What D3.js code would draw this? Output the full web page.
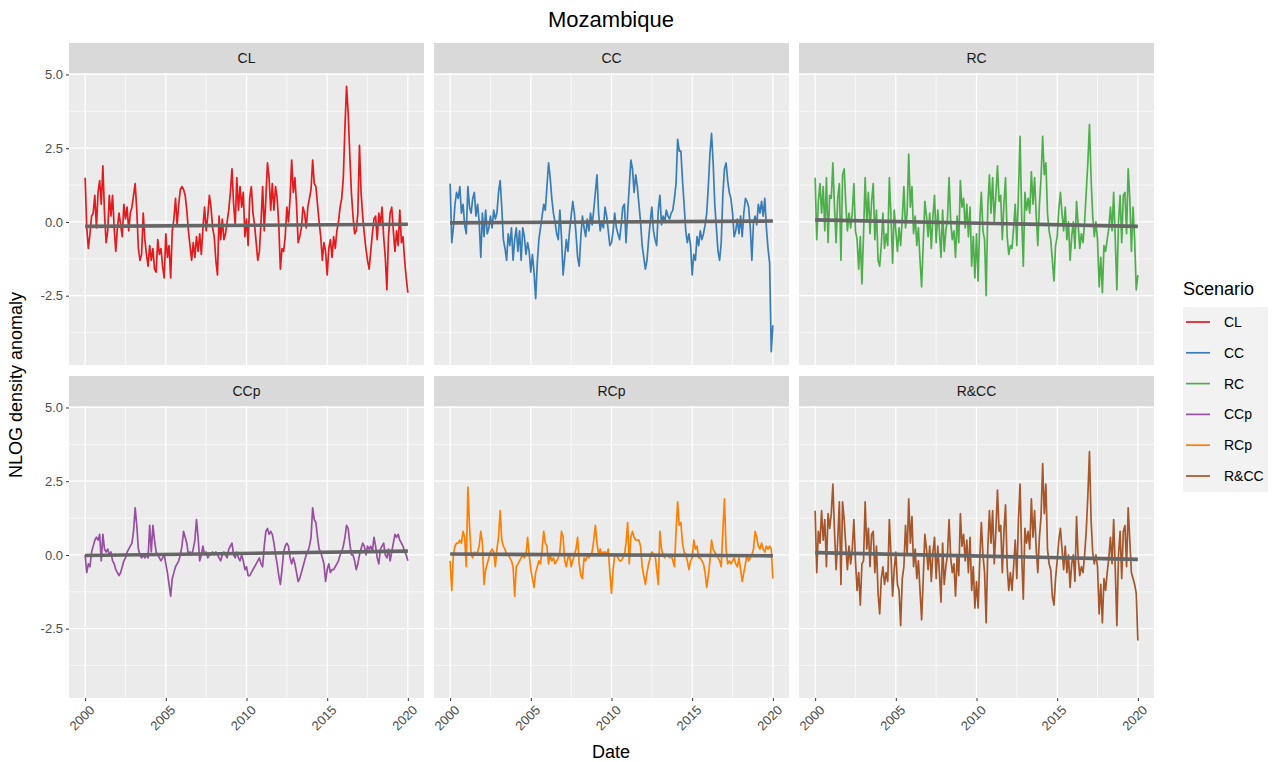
<!DOCTYPE html>
<html><head><meta charset="utf-8">
<script src="https://cdn.jsdelivr.net/npm/d3@7"></script>
<style>body{margin:0;background:#fff;} svg{display:block;font-family:"Liberation Sans",Arial,sans-serif;}</style>
</head><body><svg id="chart" width="1277" height="762"></svg>
<script>
const scenarios = ["CL","CC","RC","CCp","RCp","R&CC"];
const colors = ["#E41A1C","#377EB8","#4DAF4A","#984EA3","#FF7F00","#A65628"];
const startYear = 2000, stepsPerYear = 10;
const xTicks = [2000,2005,2010,2015,2020];
const yTicks = [-2.5,0,2.5,5];
const yTickLabels = ["-2.5","0.0","2.5","5.0"];
const trendStart = [-0.15,-0.03,0.07,-0.02,0.03,0.08];
const trendEnd   = [-0.08,0.03,-0.15,0.13,-0.03,-0.15];

const CL = [1.5,-0.2,-0.9,-0.4,0.2,0.3,0.9,-0.2,1.0,1.4,
0.6,1.9,0.3,-0.7,-0.3,0.9,0.2,0.9,-0.2,-1.0,
-0.2,0.3,-0.1,-0.5,0.6,0.1,0.5,-0.3,0.3,0.5,
0.9,1.3,0.4,-0.9,-1.3,-1.1,0.3,-0.6,-1.1,-1.5,
-0.8,-1.3,-0.9,-1.6,-1.7,-0.6,-1.1,-0.9,-1.5,-1.9,
-0.4,-1.2,-0.8,-1.9,-0.3,0.1,0.8,-0.1,0.6,1.1,
1.2,1.1,0.9,0.4,-0.3,-0.8,-1.3,-0.7,-1.2,-0.5,
-1.0,-0.4,-1.1,-0.2,0.5,-0.3,0.2,0.9,0.5,-0.2,
-0.5,-1.3,-1.8,0.2,-0.6,0.1,-0.6,-0.4,0.0,0.4,
1.0,1.8,0.6,-0.1,1.5,0.4,1.2,0.5,1.0,-0.5,
0.1,-0.8,0.8,1.2,0.3,-0.1,-0.7,-1.3,-1.0,0.0,
1.2,-0.3,0.8,2.0,1.5,0.4,1.3,0.4,1.2,0.8,
-0.1,-1.6,-0.9,-1.0,-0.5,0.5,0.0,0.8,2.1,1.0,
1.5,0.6,-0.7,-0.5,-0.2,0.5,0.3,-0.2,0.5,0.8,
1.1,2.1,1.3,1.2,0.6,0.0,-0.5,-1.3,-0.7,-1.0,
-1.8,-0.9,-0.6,-1.2,-0.5,-0.9,-0.3,0.0,0.5,0.8,
1.5,3.2,4.6,3.7,2.3,1.0,0.2,-0.4,-0.3,0.3,
2.6,1.0,0.2,-0.4,-0.9,-1.3,-1.6,-1.0,-0.4,0.1,
0.2,-0.6,0.3,-0.1,0.5,-0.5,-1.2,-2.3,-0.5,0.3,
0.5,-0.3,-1.0,-0.3,-0.8,0.4,-0.7,-0.5,-1.3,-1.9,
-2.4];

const CC = [1.3,-0.7,-0.2,0.6,1.0,0.8,1.2,0.3,0.6,-0.1,
-0.4,1.2,0.5,0.3,0.8,1.0,0.2,0.6,0.0,-1.2,
0.3,-0.5,0.4,-0.4,-0.2,0.2,-0.2,0.4,0.1,0.3,
1.0,1.4,0.5,-0.6,-0.9,-1.3,-0.4,-0.8,-0.2,-1.3,
-0.6,-0.2,-1.0,-0.3,-1.3,-0.2,-0.5,-1.1,-0.7,-1.0,
-1.7,-1.1,-1.7,-2.6,-1.4,-0.6,-0.2,0.2,0.6,0.4,
1.2,2.0,1.5,0.8,0.3,0.0,-0.4,-0.6,0.4,-0.5,
-1.8,-1.2,-0.6,-1.0,-0.3,0.2,0.7,0.3,-0.4,-1.2,
-1.5,-0.5,0.2,-0.2,-0.5,0.1,-0.3,0.3,-0.1,0.4,
1.0,1.6,0.3,-0.3,0.0,-0.2,0.5,0.2,-0.3,-0.8,
-0.7,-0.3,0.3,-0.2,-0.4,-0.6,-0.1,0.5,0.6,-0.7,
0.3,1.2,2.1,1.8,1.0,1.6,1.2,0.6,0.0,-0.8,
-1.2,-1.6,-1.3,-0.6,0.0,0.5,-0.3,-0.6,-0.8,0.4,
0.9,-0.1,0.2,0.0,0.4,0.2,0.1,0.3,0.4,0.8,
1.3,2.8,2.4,2.4,1.4,0.6,-0.3,-0.7,-0.4,-0.8,
-1.8,-1.1,-1.3,-0.5,-0.8,-0.3,-0.6,-0.4,-0.1,0.3,
1.2,2.3,3.0,2.0,0.6,-0.2,-1.0,-1.3,-0.7,0.9,
1.8,2.0,1.4,1.0,0.8,0.3,-0.5,-0.3,0.1,-0.4,
0.2,-0.5,0.3,0.8,0.7,0.5,-0.2,-1.3,0.0,0.2,
-0.1,0.6,0.3,0.7,0.2,0.8,-0.2,-0.9,-1.4,-4.4,
-3.5];

const RC = [1.5,-0.6,0.7,1.3,0.3,1.2,-0.3,1.5,-0.7,0.9,
0.8,2.0,0.5,-0.7,0.8,1.3,-1.3,1.6,1.8,0.6,
-0.3,0.3,-0.2,0.3,1.3,-0.3,-0.6,-1.6,-0.5,-2.1,
-0.4,1.5,0.0,1.0,-0.4,0.7,1.3,-0.6,0.4,-1.3,
-1.5,-0.8,0.3,-0.9,-0.4,-0.8,1.5,0.2,-1.4,0.4,
-0.3,-1.0,-0.2,-0.8,0.1,1.2,-0.2,0.3,2.3,0.5,
1.2,-0.4,0.2,-0.8,-0.2,-1.3,-2.2,-0.7,0.7,0.2,
-0.5,0.3,-0.9,0.2,0.9,-0.7,0.4,-0.3,-1.2,0.4,
-1.0,-0.3,0.1,1.5,0.0,-0.6,-0.3,-1.2,0.2,-0.7,
1.4,0.5,0.8,-0.2,0.6,-0.5,0.5,-1.5,-0.5,-1.9,
-0.4,-2.0,0.0,1.0,-0.3,-0.6,-2.5,0.5,1.6,0.3,
1.5,0.0,0.9,1.9,0.7,0.9,-0.6,0.6,1.5,-0.5,
-1.1,-0.8,-0.9,-0.2,0.6,-0.8,1.0,2.9,0.2,-1.5,
1.0,0.4,0.8,0.3,1.7,0.6,1.5,0.2,-0.8,0.6,
1.5,2.9,1.6,2.0,0.3,-0.3,-0.6,-1.3,-2.0,-0.8,
-0.5,0.4,1.0,0.3,-0.3,0.5,-0.6,0.0,-1.3,-0.5,
0.0,-0.9,0.7,-0.1,-0.9,-0.4,-0.7,0.0,1.0,2.0,
3.3,1.5,0.2,-0.5,0.0,-0.6,-2.2,-1.2,-2.4,-0.8,
-1.0,-0.6,-0.2,0.5,-0.3,1.0,-0.6,-2.3,0.0,0.9,
-0.7,0.9,1.0,-0.4,1.8,0.8,-1.0,0.5,-0.6,-2.3,
-1.8];

const CCp = [0.0,-0.6,-0.3,-0.4,0.1,0.3,0.5,0.6,0.5,0.7,
-0.2,0.7,0.2,0.1,0.2,0.0,0.1,-0.2,-0.3,-0.5,
-0.6,-0.7,-0.6,-0.4,-0.2,-0.1,0.1,0.2,0.3,0.4,
0.8,1.6,1.0,0.2,0.0,-0.1,0.0,-0.1,0.0,-0.1,
1.0,0.1,1.0,0.5,0.1,0.0,-0.1,-0.2,-0.1,0.0,
-0.3,-0.6,-1.0,-1.4,-0.8,-0.6,-0.4,-0.3,-0.2,0.0,
0.3,0.8,0.6,0.4,0.0,0.1,0.0,0.2,0.5,1.2,
0.6,-0.2,0.0,0.3,0.0,0.1,-0.1,0.0,0.0,0.1,
0.0,0.1,0.0,-0.1,-0.2,0.0,0.1,0.0,-0.1,0.2,
0.3,0.4,0.0,-0.1,0.1,-0.1,-0.2,0.0,-0.2,-0.5,
-0.4,-0.7,-0.7,-0.6,-0.5,-0.4,-0.3,-0.2,-0.1,-0.3,
-0.4,0.3,0.8,0.9,0.7,0.8,0.7,0.4,0.0,-0.3,
-0.7,-1.0,-0.5,0.1,0.3,0.4,0.3,-0.1,-0.3,-0.1,
-0.3,-0.6,-0.9,-0.8,-0.6,-0.4,-0.2,0.0,0.1,0.3,
0.6,1.6,1.2,1.1,0.6,0.2,0.1,-0.1,-0.3,-0.9,
-0.5,-0.3,-0.6,-0.5,-0.5,-0.4,-0.3,-0.2,0.0,0.1,
0.3,0.6,1.0,0.9,0.4,0.0,0.0,-0.2,-0.5,-0.3,
0.0,0.2,0.4,0.3,0.0,0.3,0.2,0.3,0.1,0.6,
0.3,-0.1,-0.3,0.2,0.3,0.4,0.0,-0.1,0.2,-0.2,
0.1,0.4,0.7,0.6,0.7,0.5,0.4,0.3,0.1,0.0,
-0.2];

const RCp = [-0.2,-1.2,0.0,0.3,0.4,0.4,0.5,0.4,0.8,0.6,
-0.4,2.3,1.0,0.0,-0.1,0.1,0.0,0.1,0.3,0.8,
0.4,-1.0,-0.5,-0.3,-0.1,0.1,0.2,0.1,-0.4,0.2,
0.6,1.5,0.5,0.3,0.2,0.0,0.0,-0.1,-0.2,-0.4,
-1.4,-0.4,-0.3,-0.2,-0.1,0.0,-0.1,0.0,0.6,0.0,
-0.5,-0.8,-1.1,-0.6,-0.4,-0.2,-0.3,0.2,0.8,0.4,
0.3,-0.3,0.0,-0.2,-0.1,-0.3,-0.2,-0.1,0.1,0.8,
0.6,-0.2,-0.4,-0.1,0.0,-0.4,-0.2,0.0,0.2,0.6,
-0.3,-0.7,-0.8,-0.1,-0.2,0.0,-0.1,0.0,0.1,0.5,
1.0,0.4,0.0,0.2,0.0,0.1,0.1,0.0,0.2,-0.6,
-1.3,-0.5,0.0,0.0,-0.1,-0.2,-0.2,-0.1,0.0,0.4,
1.1,-0.3,0.6,0.8,0.6,0.5,0.5,0.5,0.3,-0.4,
-0.7,-1.0,-0.6,-0.3,-0.1,0.1,0.0,0.0,-0.5,-1.0,
0.8,0.2,0.0,-0.1,0.0,0.0,-0.1,0.0,-0.2,-0.4,
0.8,1.8,1.0,1.1,0.4,0.1,0.0,-0.2,-0.5,-0.2,
-0.1,0.5,0.2,0.3,-0.1,-0.1,-0.2,-0.3,-0.6,-1.1,
-0.7,-0.2,0.5,0.2,0.1,0.0,-0.1,-0.2,-0.4,0.8,
1.9,0.2,-0.3,-0.2,-0.3,-0.2,-0.1,-0.3,-0.4,-0.1,
-0.5,-0.9,-0.6,-0.3,0.0,-0.2,-0.1,0.0,0.2,0.8,
0.6,0.3,0.2,0.4,0.2,0.1,0.3,0.2,0.3,0.2,
-0.8];

const RandCC = [1.5,-0.6,0.8,0.4,1.5,0.5,1.2,-0.4,1.4,0.9,
1.4,2.4,0.8,-0.5,0.5,1.8,-1.0,1.8,1.2,0.3,
-0.5,0.3,-0.3,0.2,1.2,-0.2,-1.2,-0.6,-1.7,-0.3,
-0.2,1.8,0.2,0.9,-0.4,0.7,0.8,-0.6,0.3,-1.3,
-2.0,-0.8,-0.4,-1.0,-0.6,-0.9,1.2,0.0,-1.4,-0.5,
0.1,-1.0,-1.2,-2.4,-0.8,-0.4,1.0,0.0,1.9,0.4,
1.3,-0.4,0.2,-0.8,-0.2,-1.2,-2.2,-0.8,0.7,0.2,
-0.5,0.3,-0.9,0.1,0.6,-0.8,0.3,-0.6,-1.6,0.4,
-1.0,-0.4,0.0,1.2,-0.1,-0.6,-0.3,-1.4,0.0,-0.7,
1.4,0.3,0.7,-0.2,0.5,-0.6,0.6,-1.2,-0.4,-1.8,
-0.9,-1.8,-0.2,1.1,0.0,-0.6,-2.3,0.2,1.5,0.4,
1.5,-0.3,0.8,2.2,0.8,1.0,-0.6,0.8,1.7,-0.4,
-1.2,-0.6,-1.2,-0.4,0.5,-0.8,1.2,2.4,0.0,-1.5,
0.9,0.4,0.8,0.2,1.9,0.6,1.5,0.2,-0.6,0.6,
1.3,3.1,1.4,2.4,0.2,-0.3,-0.5,-1.4,-1.7,-0.8,
-0.2,0.5,0.9,0.2,-0.5,0.3,-0.6,0.0,-1.1,-0.3,
0.0,-0.9,1.3,-0.1,-0.7,-0.4,-0.6,0.0,0.8,2.0,
3.5,1.2,0.1,-0.3,0.0,-0.4,-2.0,-1.0,-2.3,-0.8,
-1.2,-0.6,-0.1,0.6,-0.3,1.2,-0.5,-2.4,0.0,0.8,
-0.8,0.8,1.0,-0.4,1.6,0.5,-0.6,-0.8,-1.0,-1.3,
-2.9];

const seriesValues = [CL, CC, RC, CCp, RCp, RandCC];

const svg = d3.select("#chart");
const panelW = 355, panelH = 292, stripH = 30;
const colX = [69, 434, 799];
const rowY = [73, 406]; // panel tops

const x = d3.scaleLinear().domain([1999, 2021]).range([0, panelW]);
const y = d3.scaleLinear().domain([-4.85, 5.05]).range([panelH, 0]);

const line = d3.line().x(d => x(d[0])).y(d => y(d[1]));

scenarios.forEach((name, i) => {
  const col = i % 3, row = Math.floor(i / 3);
  const g = svg.append("g").attr("transform", `translate(${colX[col]},${rowY[row]})`);
  g.append("rect").attr("x", 0).attr("y", -stripH).attr("width", panelW).attr("height", stripH).attr("fill", "#D9D9D9");
  g.append("text").attr("x", panelW/2).attr("y", -stripH/2).attr("dy", "0.35em")
    .attr("text-anchor", "middle").attr("font-size", 14).attr("fill", "#1A1A1A").text(name);
  g.append("rect").attr("width", panelW).attr("height", panelH).attr("fill", "#EBEBEB");
  const minorY = [-3.75,-1.25,1.25,3.75];
  const minorX = [2002.5,2007.5,2012.5,2017.5];
  g.selectAll(".my").data(minorY).join("line").attr("x1",0).attr("x2",panelW)
    .attr("y1", d=>y(d)).attr("y2", d=>y(d)).attr("stroke","#fff").attr("stroke-width",0.6);
  g.selectAll(".mx").data(minorX).join("line").attr("y1",0).attr("y2",panelH)
    .attr("x1", d=>x(d)).attr("x2", d=>x(d)).attr("stroke","#fff").attr("stroke-width",0.6);
  g.selectAll(".gy").data(yTicks).join("line").attr("x1",0).attr("x2",panelW)
    .attr("y1", d=>y(d)).attr("y2", d=>y(d)).attr("stroke","#fff").attr("stroke-width",1.2);
  g.selectAll(".gx").data(xTicks).join("line").attr("y1",0).attr("y2",panelH)
    .attr("x1", d=>x(d)).attr("x2", d=>x(d)).attr("stroke","#fff").attr("stroke-width",1.2);
  const pts = seriesValues[i].map((v, k) => [startYear + k / stepsPerYear, v]);
  g.append("path").datum(pts).attr("d", line).attr("fill","none")
    .attr("stroke", colors[i]).attr("stroke-width", 1.7).attr("stroke-linejoin","round");
  const t0 = pts[0][0], t1 = pts[pts.length-1][0];
  g.append("path").datum([[t0, trendStart[i]],[t1, trendEnd[i]]]).attr("d", line)
    .attr("fill","none").attr("stroke","#666666").attr("stroke-width",3.6);
  if (col === 0) {
    const ya = d3.axisLeft(y).tickValues(yTicks).tickSize(3).tickPadding(3)
      .tickFormat((d, j) => yTickLabels[j]);
    const ag = g.append("g").call(ya);
    ag.select(".domain").remove();
    ag.selectAll(".tick line").attr("stroke","#333333");
    ag.selectAll(".tick text").attr("fill","#4D4D4D").attr("font-size",13)
      .attr("font-family","Liberation Sans, Arial, sans-serif");
  }
  if (row === 1) {
    const xa = d3.axisBottom(x).tickValues(xTicks).tickSize(3).tickFormat(d3.format("d"));
    const ag = g.append("g").attr("transform", `translate(0,${panelH})`).call(xa);
    ag.select(".domain").remove();
    ag.selectAll(".tick line").attr("stroke","#333333");
    ag.selectAll(".tick text").attr("fill","#4D4D4D").attr("font-size",13)
      .attr("font-family","Liberation Sans, Arial, sans-serif")
      .attr("text-anchor","end").attr("dy",null)
      .attr("transform","translate(3,6) rotate(-45)").attr("y",0).attr("x",0)
      .attr("dominant-baseline","hanging");
  }
});

svg.append("text").attr("x", 611).attr("y", 27).attr("text-anchor","middle")
  .attr("font-size", 22).attr("fill","#000").text("Mozambique");
svg.append("text").attr("x", 611).attr("y", 758).attr("text-anchor","middle")
  .attr("font-size", 18).attr("fill","#000").text("Date");
svg.append("text").attr("transform","translate(22,385) rotate(-90)").attr("text-anchor","middle")
  .attr("font-size", 18).attr("fill","#000").text("NLOG density anomaly");

const lg = svg.append("g").attr("transform","translate(1183,0)");
lg.append("text").attr("x",0).attr("y",295).attr("font-size",18).attr("fill","#000").text("Scenario");
lg.append("rect").attr("x",0).attr("y",307).attr("width",85).attr("height",185).attr("fill","#F2F2F2");
scenarios.forEach((name, i) => {
  const cy = 322 + i * 30.8;
  lg.append("line").attr("x1",3).attr("x2",27).attr("y1",cy).attr("y2",cy)
    .attr("stroke",colors[i]).attr("stroke-width",1.7);
  lg.append("text").attr("x",41).attr("y",cy).attr("dy","0.35em").attr("font-size",14)
    .attr("fill","#000").text(name);
});
</script></body></html>
